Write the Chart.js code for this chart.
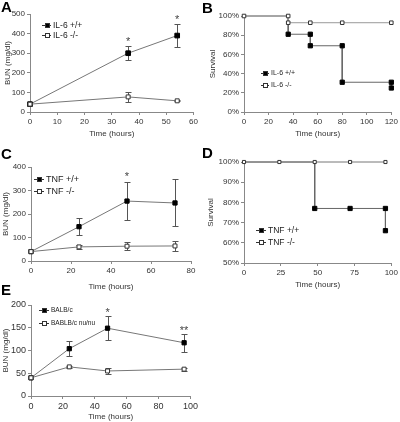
<!DOCTYPE html>
<html>
<head>
<meta charset="utf-8">
<script src="https://cdn.jsdelivr.net/npm/chart.js@4/dist/chart.umd.min.js"></script>
<style>
body { margin: 0; background: #fff; }
#wrap { position: relative; width: 400px; height: 422px; overflow: hidden; font-family: "Liberation Sans", Arial, sans-serif; }
#wrap canvas { position: absolute; }
.lab { position: absolute; font-weight: bold; font-size: 15px; line-height: 15px; color: #000; }
</style>
</head>
<body>
<div id="wrap">
  <canvas id="cA" width="200" height="140" style="left:0;top:0"></canvas>
  <canvas id="cB" width="200" height="140" style="left:200px;top:0"></canvas>
  <canvas id="cC" width="200" height="152" style="left:0;top:140px"></canvas>
  <canvas id="cD" width="200" height="150" style="left:200px;top:140px"></canvas>
  <canvas id="cE" width="200" height="142" style="left:0;top:280px"></canvas>
  <div class="lab" style="left:1px;top:-1px">A</div>
  <div class="lab" style="left:202px;top:0px">B</div>
  <div class="lab" style="left:1px;top:146px">C</div>
  <div class="lab" style="left:202px;top:145px">D</div>
  <div class="lab" style="left:1px;top:282px">E</div>
</div>
<script>
// A: BUN, IL-6
const timeA = [0, 36, 54];
const il6Wt = [40, 300, 390];
const il6WtSd = [0, 35, 60];
const il6Ko = [40, 77, 57];
const il6KoSd = [0, 26, 3];
const starsA = [[36, 372, '*'], [54, 486, '*']];

// B: survival, IL-6 (steps)
const survTimeIl6Wt = [0, 36, 36, 54, 54, 80, 80, 120, 120];
const survIl6Wt = [100, 100, 81, 81, 69, 69, 31, 31, 25];
const survTimeIl6Ko = [0, 36, 36, 54, 80, 120];
const survIl6Ko = [100, 100, 93, 93, 93, 93];

// C: BUN, TNF
const timeC = [0, 24, 48, 72];
const tnfWt = [40, 146, 255, 247];
const tnfWtSd = [0, 36, 82, 100];
const tnfKo = [40, 60, 63, 64];
const tnfKoSd = [0, 8, 17, 20];
const starsC = [[48, 371, '*']];

// D: survival, TNF
const survTimeTnfWt = [0, 48, 48, 72, 96, 96];
const survTnfWt = [100, 100, 77, 77, 77, 66];
const survTimeTnfKo = [0, 24, 48, 72, 96];
const survTnfKo = [100, 100, 100, 100, 100];

// E: BUN, BALB/c vs nude
const timeE = [0, 24, 48, 96];
const balb = [40, 104, 149, 117];
const balbSd = [0, 16, 27, 20];
const nude = [40, 64, 55, 59];
const nudeSd = [0, 2, 6, 3];
const starsE = [[48, 190, '*'], [96, 149, '**']];

const FONT = '"Liberation Sans", Arial, sans-serif';

function xy(xs, ys) {
    return xs.map((x, i) => ({ x: x, y: ys[i] }));
}

// error bars drawn under the markers
const errorBars = {
    id: 'errorBars',
    beforeDatasetsDraw(chart) {
        const ctx = chart.ctx, sx = chart.scales.x, sy = chart.scales.y;
        ctx.save();
        ctx.strokeStyle = '#555';
        ctx.lineWidth = 1;
        chart.data.datasets.forEach(ds => {
            if (!ds.errors) return;
            ds.data.forEach((p, j) => {
                const e = ds.errors[j];
                if (!e) return;
                const px = Math.round(sx.getPixelForValue(p.x)) + 0.5;
                const top = Math.round(sy.getPixelForValue(p.y + e)) + 0.5;
                const bot = Math.round(sy.getPixelForValue(p.y - e)) + 0.5;
                ctx.beginPath();
                ctx.moveTo(px, top); ctx.lineTo(px, bot);
                ctx.moveTo(px - 3, top); ctx.lineTo(px + 3, top);
                ctx.moveTo(px - 3, bot); ctx.lineTo(px + 3, bot);
                ctx.stroke();
            });
        });
        ctx.restore();
    }
};

// asterisks above the points
const starMarks = {
    id: 'starMarks',
    afterDatasetsDraw(chart, args, opts) {
        if (!opts.marks) return;
        const ctx = chart.ctx;
        ctx.save();
        ctx.fillStyle = '#444';
        ctx.font = (opts.size || 11) + 'px ' + FONT;
        ctx.textAlign = 'center';
        ctx.textBaseline = 'middle';
        opts.marks.forEach(m => {
            ctx.fillText(m[2], chart.scales.x.getPixelForValue(m[0]), chart.scales.y.getPixelForValue(m[1]) + 3);
        });
        ctx.restore();
    }
};

// legend in the plot, line + square marker + text
const panelLegend = {
    id: 'panelLegend',
    afterDatasetsDraw(chart, args, opts) {
        if (!opts.x) return;
        const ctx = chart.ctx;
        ctx.save();
        ctx.font = opts.size + 'px ' + FONT;
        ctx.textBaseline = 'middle';
        chart.data.datasets.forEach((ds, i) => {
            const y = Math.round(opts.y + i * opts.gap) + 0.5;
            ctx.strokeStyle = '#333';
            ctx.lineWidth = 1;
            ctx.beginPath();
            ctx.moveTo(opts.x, y); ctx.lineTo(opts.x + opts.len, y);
            ctx.stroke();
            const s = opts.box;
            const cx = Math.round(opts.x + opts.len / 2) + 0.5;
            ctx.fillStyle = ds.pointBackgroundColor;
            ctx.fillRect(cx - s / 2, y - s / 2, s, s);
            ctx.strokeRect(cx - s / 2, y - s / 2, s, s);
            ctx.fillStyle = '#222';
            ctx.fillText(ds.label, opts.x + opts.len + 2, y);
        });
        ctx.restore();
    }
};

function wtSet(label, data, extra) {
    return Object.assign({
        label: label, data: data, borderColor: '#777', borderWidth: 1,
        pointStyle: 'rect', pointRadius: 3, pointBackgroundColor: '#000',
        pointBorderColor: '#000', tension: 0, order: 1, clip: false
    }, extra || {});
}

function koSet(label, data, extra) {
    return Object.assign({
        label: label, data: data, borderColor: '#777', borderWidth: 1,
        pointStyle: 'rect', pointRadius: 2.8, pointBackgroundColor: '#fff',
        pointBorderColor: '#333', tension: 0, order: 0, clip: false
    }, extra || {});
}

function makeChart(id, cfg) {
    const canvas = document.getElementById(id);
    const w = canvas.width, h = canvas.height;
    const a = cfg.area;
    const tickFont = { family: FONT, size: cfg.tickSize || 8 };
    return new Chart(canvas, {
        type: 'line',
        data: { datasets: cfg.datasets },
        plugins: [errorBars, starMarks, panelLegend],
        options: {
            responsive: false,
            animation: false,
            devicePixelRatio: 1,
            layout: { padding: { top: a[1], right: w - a[2], left: 0, bottom: 0 } },
            plugins: {
                legend: { display: false },
                tooltip: { enabled: false },
                starMarks: { marks: cfg.stars, size: 11 },
                panelLegend: cfg.legend
            },
            scales: {
                x: {
                    type: 'linear', min: cfg.x[0], max: cfg.x[1],
                    ticks: { stepSize: cfg.x[2], font: tickFont, color: '#333', padding: 2, maxRotation: 0, autoSkip: false },
                    grid: { drawOnChartArea: false, tickLength: 3, color: '#888' },
                    border: { color: '#888' },
                    title: { display: true, text: 'Time (hours)', font: { family: FONT, size: 8 }, color: '#333', padding: { top: 0, bottom: cfg.xTitlePad || 0 } },
                    afterFit: s => { s.height = h - a[3]; }
                },
                y: {
                    min: cfg.y[0], max: cfg.y[1],
                    ticks: { stepSize: cfg.y[2], font: tickFont, color: '#333', padding: 2, callback: cfg.pct ? v => v + '%' : v => v },
                    grid: { drawOnChartArea: false, tickLength: 3, color: '#888' },
                    border: { color: '#888' },
                    title: { display: true, text: cfg.yTitle, font: { family: FONT, size: 8 }, color: '#333', padding: { top: cfg.yTitlePad, bottom: 0 } },
                    afterFit: s => { s.width = a[0]; }
                }
            }
        }
    });
}

const hideTop = ctx => (ctx.raw && ctx.raw.y === 100 ? 0 : 3);

makeChart('cA', {
    area: [30, 14, 196, 112],
    x: [0, 60, 10], y: [0, 500, 100],
    yTitle: 'BUN (mg/dl)', yTitlePad: 3, xTitlePad: 1,
    datasets: [
        wtSet('IL-6 +/+', xy(timeA, il6Wt), { errors: il6WtSd, pointRadius: 3.3 }),
        koSet('IL-6 -/-', xy(timeA, il6Ko), { errors: il6KoSd })
    ],
    stars: starsA,
    legend: { x: 42, y: 25, gap: 9.5, len: 9, box: 4, size: 8.5 }
});

makeChart('cB', {
    area: [44, 16, 192, 112],
    x: [0, 120, 20], y: [0, 100, 20], pct: true,
    yTitle: 'Survival', yTitlePad: 8, xTitlePad: 1,
    datasets: [
        wtSet('IL-6 +/+', xy(survTimeIl6Wt, survIl6Wt), { pointRadius: hideTop, borderColor: '#666' }),
        koSet('IL-6 -/-', xy(survTimeIl6Ko, survIl6Ko), { borderColor: '#999', pointRadius: 2.5 })
    ],
    legend: { x: 61, y: 73, gap: 12, len: 8, box: 4, size: 7 }
});

makeChart('cC', {
    area: [31, 27, 191, 121],
    x: [0, 80, 20], y: [0, 400, 100],
    yTitle: 'BUN (mg/dl)', yTitlePad: 1,
    datasets: [
        wtSet('TNF +/+', xy(timeC, tnfWt), { errors: tnfWtSd }),
        koSet('TNF -/-', xy(timeC, tnfKo), { errors: tnfKoSd })
    ],
    stars: starsC,
    legend: { x: 34, y: 39, gap: 12, len: 10, box: 4, size: 9 }
});

makeChart('cD', {
    area: [44, 22, 192, 123],
    x: [0, 100, 25], y: [50, 100, 10], pct: true,
    yTitle: 'Survival', yTitlePad: 6,
    datasets: [
        wtSet('TNF +/+', xy(survTimeTnfWt, survTnfWt), { pointRadius: hideTop, borderColor: '#666' }),
        koSet('TNF -/-', xy(survTimeTnfKo, survTnfKo), { pointRadius: 2.2, borderColor: '#777' })
    ],
    legend: { x: 56, y: 90, gap: 12, len: 10, box: 4, size: 8.5 }
});

makeChart('cE', {
    area: [31, 25, 193, 116],
    x: [0, 100, 20], y: [0, 200, 50], tickSize: 9,
    yTitle: 'BUN (mg/dl)', yTitlePad: 1,
    datasets: [
        wtSet('BALB/c', xy(timeE, balb), { errors: balbSd }),
        koSet('BABLB/c nu/nu', xy(timeE, nude), { errors: nudeSd })
    ],
    stars: starsE,
    legend: { x: 39, y: 30, gap: 13, len: 10, box: 4, size: 6.5 }
});
</script>
</body>
</html>
